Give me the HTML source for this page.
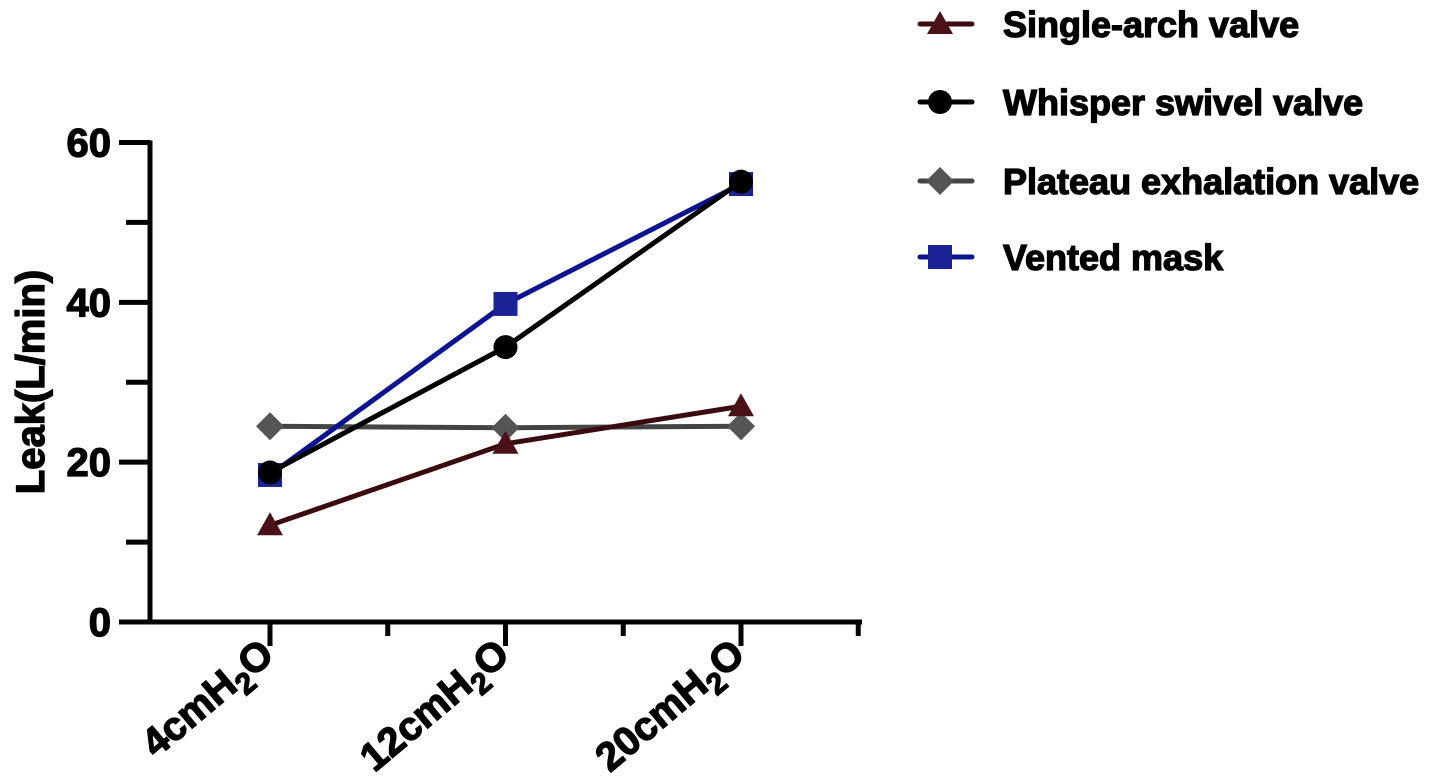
<!DOCTYPE html>
<html><head><meta charset="utf-8"><style>
html,body{margin:0;padding:0;background:#fff;}
svg{display:block;font-family:"Liberation Sans",Arial,sans-serif;font-weight:bold;}
.hv{stroke:#000;stroke-width:1.3;paint-order:stroke;}
</style></head><body>
<svg id="chart" width="1441" height="780" viewBox="0 0 1441 780" xmlns="http://www.w3.org/2000/svg">
<g id="axes"></g><g id="series"></g><g id="legend"></g>
<text class="hv" transform="translate(44,382) rotate(-90)" text-anchor="middle" font-size="40" fill="#000">Leak(L/min)</text>
</svg>
<script>
const categories = ["4", "12", "20"];
const yTicks = [0, 20, 40, 60];
const seriesNames = ["Single-arch valve", "Whisper swivel valve", "Plateau exhalation valve", "Vented mask"];
const singleArch = [12.1, 22.3, 27.0];
const whisper = [18.7, 34.4, 55.1];
const plateau = [24.5, 24.3, 24.5];
const vented = [18.4, 39.8, 54.8];

const NS = "http://www.w3.org/2000/svg";
const X0 = 150, XEND = 862, Y0 = 622, YTOP = 142.5;
function yScale(v){ return Y0 - v/60*(Y0-YTOP); }
function xScale(i){ return 270 + i*235.5; }
function mk(tag, attrs, parent){ const e=document.createElementNS(NS,tag); for(const k in attrs) e.setAttribute(k,attrs[k]); parent.appendChild(e); return e; }

const axes = document.getElementById('axes');
let yAxis = mk('line',{x1:X0,y1:YTOP-2,x2:X0,y2:Y0+2,stroke:'#000','stroke-width':5},axes);


let xAxis = mk('line',{x1:X0-2,y1:Y0,x2:XEND,y2:Y0,stroke:'#000','stroke-width':5},axes);


for(let v=0; v<=60; v+=10){
  const major = v%20===0;
  const t = mk('line',{x1:major?119:126,y1:yScale(v),x2:X0,y2:yScale(v),stroke:'#000','stroke-width':5},axes);
  
  
}
yTicks.forEach(v=>{
  const t = mk('text',{x:111,y:yScale(v)+14,'text-anchor':'end','font-size':40,fill:'#000',class:'hv'},axes);
  t.textContent = v;
  
  
});
for(let k=0;k<6;k++){
  const x = 270 + k*117.75 + (k===5?-0.5:0);
  const major = k%2===0;
  const t = mk('line',{x1:x,y1:Y0,x2:x,y2:major?646:636,stroke:'#000','stroke-width':5},axes);
  
  
}
categories.forEach((c,i)=>{
  const x = xScale(i)+6, y = 658;
  const t = mk('text',{transform:`translate(${x},${y}) rotate(-40)`,'text-anchor':'end','font-size':40,fill:'#000',class:'hv'},axes);
  
  
  const a = mk('tspan',{},t); a.textContent = c+'cmH';
  const b = mk('tspan',{dy:10,'font-size':30},t); b.textContent = '2';
  const d = mk('tspan',{dy:-10},t); d.textContent = 'O';
});

function marker(shape, x, y, fill, parent){
  let m;
  if(shape==='tri') m = mk('polygon',{points:`${x},${y-13} ${x-13},${y+10} ${x+13},${y+10}`,fill},parent);
  else if(shape==='circ') m = mk('circle',{cx:x,cy:y,r:12,fill},parent);
  else if(shape==='dia') m = mk('polygon',{points:`${x},${y-14} ${x+14},${y} ${x},${y+14} ${x-14},${y}`,fill},parent);
  else m = mk('rect',{x:x-12,y:y-12,width:24,height:24,fill},parent);
  return m;
}
const defs = [
  {vals:singleArch, line:'#3a0a0e', fill:'#4a1218', shape:'tri', key:'single-arch'},
  {vals:whisper, line:'#000', fill:'#000', shape:'circ', key:'whisper-swivel'},
  {vals:plateau, line:'#444', fill:'#555', shape:'dia', key:'plateau-exhalation'},
  {vals:vented, line:'#0c1490', fill:'#1a2396', shape:'sq', key:'vented-mask'}
];
const drawOrder = [2,0,3,1];
const sg = document.getElementById('series');
drawOrder.forEach(si=>{
  const d = defs[si];
  const g = mk('g',{},sg);
  
  
  const pl = mk('polyline',{points:d.vals.map((v,i)=>xScale(i)+','+yScale(v)).join(' '),fill:'none',stroke:d.line,'stroke-width':5},g);
  
  
  d.vals.forEach((v,i)=>{
    const m = marker(d.shape, xScale(i), yScale(v), d.fill, g);
    
    
  });
});
const lg = document.getElementById('legend');
const legY = [24, 102, 181, 257];
defs.forEach((d,i)=>{
  const g = mk('g',{},lg);
  
  
  mk('line',{x1:920,y1:legY[i],x2:972,y2:legY[i],stroke:d.line,'stroke-width':5,'stroke-linecap':'round'},g);
  marker(d.shape, 940, legY[i], d.fill, g);
  const t = mk('text',{x:1003,y:legY[i]+13,'font-size':36,fill:'#000',class:'hv'},g);
  t.textContent = seriesNames[i];
});
</script>
</body></html>
